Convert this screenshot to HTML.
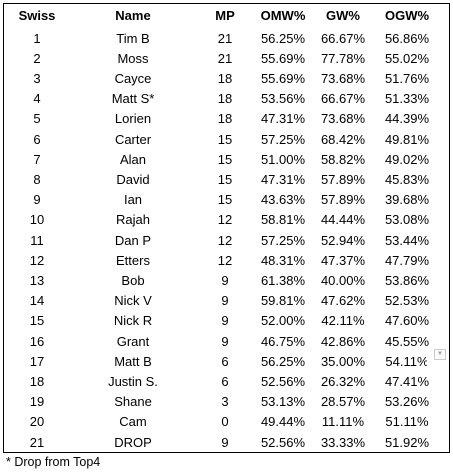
<!DOCTYPE html>
<html><head><meta charset="utf-8"><style>
body{margin:0;width:453px;height:472px;background:#fff;font-family:"Liberation Sans",sans-serif;position:relative;overflow:hidden}
#tbl{position:absolute;left:3px;top:3px;width:445px;height:448px;border:1px solid #000}
.c{position:absolute;font-size:13px;color:#000;text-align:center;width:80px;line-height:20px;white-space:nowrap}
.h{font-weight:bold}
#note{position:absolute;left:6px;top:453px;font-size:12.5px;line-height:18px}
#dd{position:absolute;left:434px;top:349px;width:10px;height:9px;border:1px solid #ccc;background:#fafafa;font-size:6px;color:#999;text-align:center;line-height:9px}
</style></head><body>
<div id="tbl"></div>
<div id="note">* Drop from Top4</div>
<script>
const headers=["Swiss","Name","MP","OMW%","GW%","OGW%"];
const names=["Tim B","Moss","Cayce","Matt S*","Lorien","Carter","Alan","David","Ian","Rajah","Dan P","Etters","Bob","Nick V","Nick R","Grant","Matt B","Justin S.","Shane","Cam","DROP"];
const swiss=["1","2","3","4","5","6","7","8","9","10","11","12","13","14","15","16","17","18","19","20","21"];
const mp=["21","21","18","18","18","15","15","15","15","12","12","12","9","9","9","9","6","6","3","0","9"];
const omw=["56.25%","55.69%","55.69%","53.56%","47.31%","57.25%","51.00%","47.31%","43.63%","58.81%","57.25%","48.31%","61.38%","59.81%","52.00%","46.75%","56.25%","52.56%","53.13%","49.44%","52.56%"];
const gw=["66.67%","77.78%","73.68%","66.67%","73.68%","68.42%","58.82%","57.89%","57.89%","44.44%","52.94%","47.37%","40.00%","47.62%","42.11%","42.86%","35.00%","26.32%","28.57%","11.11%","33.33%"];
const ogw=["56.86%","55.02%","51.76%","51.33%","44.39%","49.81%","49.02%","45.83%","39.68%","53.08%","53.44%","47.79%","53.86%","52.53%","47.60%","45.55%","54.11%","47.41%","53.26%","51.11%","51.92%"];
const cols=[37,133,225,283,343,407];
const keys=["swiss","name","mp","omw","gw","ogw"];
function cell(txt,cx,y,bold){const d=document.createElement('div');d.className='c'+(bold?' h':'');d.textContent=txt;d.style.left=(cx-40)+'px';d.style.top=y+'px';document.body.appendChild(d);return d;}
headers.forEach((h,i)=>{const d=cell(h,cols[i],6,true);

});
const data=[swiss,names,mp,omw,gw,ogw];
for(let r=0;r<names.length;r++){const y=28.5+r*20.2;
for(let c=0;c<6;c++){const d=cell(data[c][r],cols[c],y,false);


if(r==16&&c==5){d.style.clip='rect(0px,60px,20px,0px)';}}}
</script>
<div id="dd">▼</div>
</body></html>
